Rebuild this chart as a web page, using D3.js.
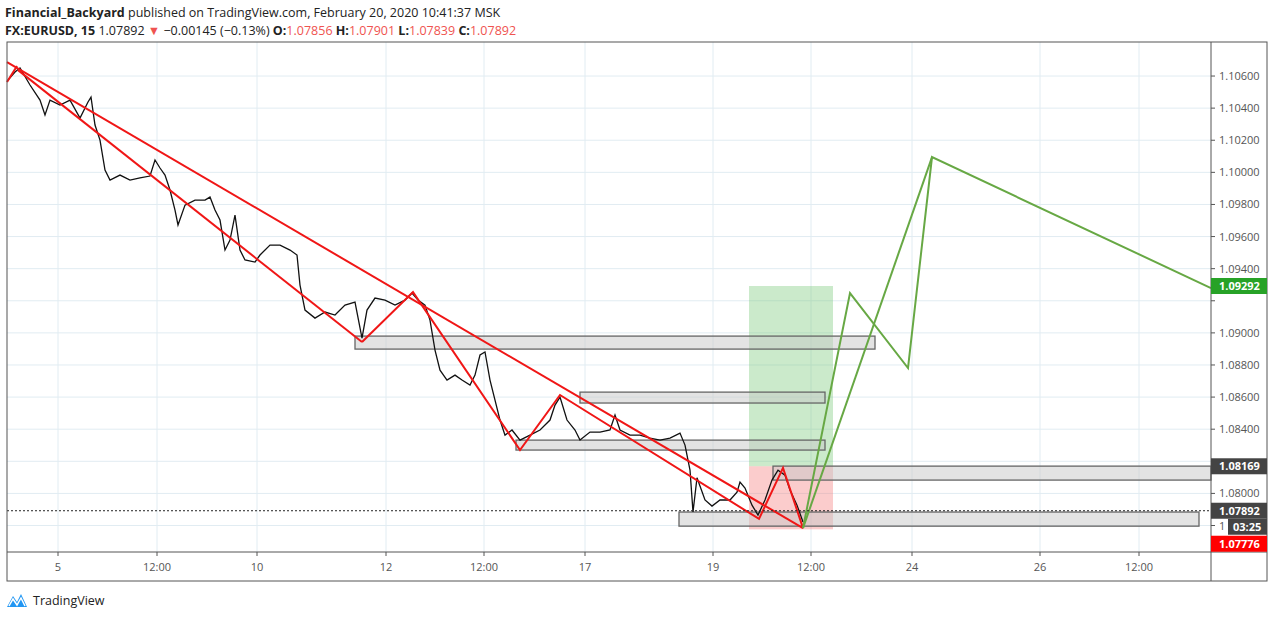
<!DOCTYPE html>
<html><head><meta charset="utf-8">
<script src="https://cdn.jsdelivr.net/npm/d3@7"></script>
<style>body{margin:0;background:#fff;font-family:"Open Sans",Arial,sans-serif}</style>
</head><body>
<script>
// price path: [bar, price]
var pricePath = [[1,1.10575],[8,1.10625],[13,1.10650],[23,1.10544],[33,1.10450],[38,1.10357],[43,1.10450],[53,1.10419],[63,1.10450],[73,1.10338],[81,1.10438],[84,1.10469],[88,1.10295],[93,1.10201],[98,1.10014],[103,1.09952],[113,1.09983],[123,1.09952],[133,1.09965],[143,1.09977],[148,1.10077],[153,1.10027],[158,1.09983],[163,1.09890],[168,1.09765],[171,1.09672],[178,1.09796],[188,1.09827],[198,1.09827],[203,1.09846],[208,1.09765],[213,1.09703],[218,1.09516],[223,1.09578],[228,1.09734],[233,1.09516],[238,1.09454],[248,1.09441],[253,1.09485],[263,1.09547],[273,1.09547],[283,1.09516],[290,1.09485],[293,1.09298],[298,1.09142],[308,1.09092],[318,1.09130],[328,1.09111],[338,1.09173],[348,1.09192],[355,1.08968],[360,1.09142],[368,1.09217],[378,1.09204],[388,1.09173],[398,1.09204],[405,1.09248],[411,1.09204],[418,1.09173],[423,1.09080],[428,1.08893],[433,1.08768],[440,1.08706],[448,1.08737],[455,1.08706],[463,1.08675],[468,1.08737],[473,1.08862],[478,1.08881],[483,1.08706],[488,1.08581],[493,1.08457],[498,1.08363],[505,1.08395],[513,1.08332],[523,1.08363],[533,1.08395],[543,1.08457],[548,1.08550],[553,1.08600],[560,1.08457],[568,1.08395],[573,1.08332],[583,1.08382],[593,1.08382],[603,1.08395],[608,1.08488],[613,1.08395],[623,1.08363],[633,1.08363],[643,1.08344],[653,1.08332],[663,1.08344],[673,1.08376],[678,1.08301],[683,1.08145],[686,1.07884],[690,1.08097],[698,1.07959],[705,1.07921],[713,1.07959],[723,1.07959],[730,1.08008],[733,1.08071],[738,1.08033],[745,1.07927],[751,1.07865],[758,1.07959],[765,1.08083],[771,1.08145],[778,1.08114],[783,1.08021],[790,1.07927],[796,1.07822]];

var redLines = [
  [[0,1.10687],[796,1.07784]],
  [[11,1.10637],[355,1.08943]],
  [[0,1.10563],[10,1.10662]],
  [[355,1.08943],[406,1.09254],[513,1.08270],[553,1.08613],[752,1.07841],[776,1.08159],[796,1.07784]]
];
var greenLines = [
  [[796,1.07784],[843,1.09248],[901,1.08781],[925,1.10095],[1204,1.09279]],
  [[796,1.07784],[925,1.10095]]
];
// [start, end, top, bottom]
var zones = [[348,868,1.08980,1.08899],[573,818,1.08631,1.08563],[509,818,1.08332,1.08270],[766,1204,1.08170,1.08083],[672,1192,1.07884,1.07796]];
var target = [742,826,1.09292,1.08169];
var stop = [742,826,1.08169,1.07776];
var lastPrice = 1.07892;

var timeTicks = [51,150,250,379,477,578,706,804,905,1033,1132];
var timeLabels = ["5","12:00","10","12","12:00","17","19","12:00","24","26","12:00"];
var priceTicks = d3.range(1.078, 1.1065, 0.002);
var hiddenTicks = ["1.08200","1.09200"]; // covered by the price tags

var W = 1274, H = 618, L = 7, R = 1211, T = 42, B = 552;
var svg = d3.select("body").append("svg").attr("width", W).attr("height", H);
var x = d3.scaleLinear().domain([0,1204]).range([L,R]);
var y = d3.scaleLinear().domain([1.07635,1.10812]).range([B,T]);

// grid
svg.selectAll(".hg").data(priceTicks).enter().append("line")
  .attr("x1",L).attr("x2",R).attr("y1",d=>y(d)).attr("y2",d=>y(d)).attr("stroke","#e1ecf2");
svg.selectAll(".vg").data(timeTicks).enter().append("line")
  .attr("x1",d=>x(d)).attr("x2",d=>x(d)).attr("y1",T).attr("y2",B).attr("stroke","#e1ecf2");

// target / stop boxes
function rect(r, fill){
  svg.append("rect").attr("x",x(r[0])).attr("width",x(r[1])-x(r[0]))
    .attr("y",y(r[2])).attr("height",y(r[3])-y(r[2])).attr("fill",fill);
}
rect(target,"rgba(118,200,118,0.38)");
rect(stop,"rgba(245,120,120,0.38)");

// zones
svg.selectAll(".zone").data(zones).enter().append("rect")
  .attr("x",d=>x(d[0])).attr("width",d=>x(d[1])-x(d[0]))
  .attr("y",d=>y(d[2])).attr("height",d=>y(d[3])-y(d[2]))
  .attr("fill","rgba(200,200,200,0.5)").attr("stroke","#666").attr("stroke-width",1.3);

var line = d3.line().x(d=>x(d[0])).y(d=>y(d[1]));
svg.append("path").attr("d",line(pricePath)).attr("fill","none").attr("stroke","#111").attr("stroke-width",1.3);

svg.selectAll(".red").data(redLines).enter().append("path").attr("d",line)
  .attr("fill","none").attr("stroke","#f01616").attr("stroke-width",2);
svg.selectAll(".green").data(greenLines).enter().append("path").attr("d",line)
  .attr("fill","none").attr("stroke","#67a844").attr("stroke-width",2);

svg.append("line").attr("x1",L).attr("x2",R).attr("y1",y(lastPrice)).attr("y2",y(lastPrice))
  .attr("stroke","#222").attr("stroke-dasharray","2,2");

// frame
svg.append("rect").attr("x",L).attr("y",T).attr("width",1267-L).attr("height",581-T)
  .attr("fill","none").attr("stroke","#555");
svg.append("line").attr("x1",L).attr("x2",1267).attr("y1",B).attr("y2",B).attr("stroke","#555");
svg.append("line").attr("x1",R).attr("x2",R).attr("y1",T).attr("y2",581).attr("stroke","#555");

// price axis
svg.selectAll(".pt").data(priceTicks).enter().append("g").each(function(d){
  var g = d3.select(this);
  g.append("line").attr("x1",R).attr("x2",R+4).attr("y1",y(d)).attr("y2",y(d)).attr("stroke","#555");
  var lbl = d.toFixed(5);
  if (hiddenTicks.indexOf(lbl) >= 0) return;
  // the 1.078 label is mostly covered by the countdown box: only its first digit shows
  if (Math.abs(d - 1.078) < 1e-6) lbl = "1";
  g.append("text").attr("x",R+8).attr("y",y(d)+4).attr("font-size",11).attr("fill","#555").text(lbl);
});
function tag(yy, bg, txt){
  svg.append("rect").attr("x",R).attr("y",yy-8).attr("width",56).attr("height",16).attr("fill",bg);
  svg.append("text").attr("x",R+8).attr("y",yy+4).attr("font-size",11).attr("font-weight","bold")
    .attr("fill","#fff").text(txt);
}
tag(y(1.09292),"#27a227","1.09292");
tag(y(1.08169),"#444","1.08169");
tag(y(lastPrice),"#444",lastPrice.toFixed(5));
svg.append("rect").attr("x",R+17).attr("y",y(lastPrice)+8).attr("width",39).attr("height",16).attr("fill","#444");
svg.append("text").attr("x",R+22).attr("y",y(lastPrice)+20).attr("font-size",11).attr("font-weight","bold").attr("fill","#fff").text("03:25");
tag(y(lastPrice)+33,"#f00",stop[3].toFixed(5));

// time axis
svg.selectAll(".tt").data(timeTicks).enter().append("g").each(function(d,i){
  var g = d3.select(this);
  g.append("line").attr("x1",x(d)).attr("x2",x(d)).attr("y1",B).attr("y2",B+4).attr("stroke","#555");
  g.append("text").attr("x",x(d)).attr("y",B+19).attr("text-anchor","middle").attr("font-size",11)
    .attr("fill","#555").text(timeLabels[i]);
});

// header
var h1 = svg.append("text").attr("x",5).attr("y",17).attr("font-size",12.5).attr("fill","#222");
h1.append("tspan").attr("font-weight","bold").text("Financial_Backyard");
h1.append("tspan").text(" published on TradingView.com, February 20, 2020 10:41:37 MSK");
var h2 = svg.append("text").attr("x",5).attr("y",35).attr("font-size",12.5).attr("fill","#222");
h2.append("tspan").attr("font-weight","bold").text("FX:EURUSD, 15 ");
h2.append("tspan").text(" 1.07892 ");
h2.append("tspan").attr("fill","#ef5350").text("▼");
h2.append("tspan").text(" −0.00145 (−0.13%) ");
[["O:","1.07856"],["H:","1.07901"],["L:","1.07839"],["C:","1.07892"]].forEach(function(p){
  h2.append("tspan").attr("font-weight","bold").text(p[0]);
  h2.append("tspan").attr("fill","#ef5350").text(p[1] + " ");
});

// footer logo
svg.append("path").attr("d","M7,607 L13,596 L17,602 L21,594 L27,607 Z").attr("fill","#2196f3");
svg.append("path").attr("d","M9,606 L13,599 L17,605 L21,598 L25,606").attr("fill","none").attr("stroke","#fff").attr("stroke-width",1.5);
svg.append("text").attr("x",33).attr("y",605).attr("font-size",12.5).attr("fill","#222").text("TradingView");
</script>
</body></html>
